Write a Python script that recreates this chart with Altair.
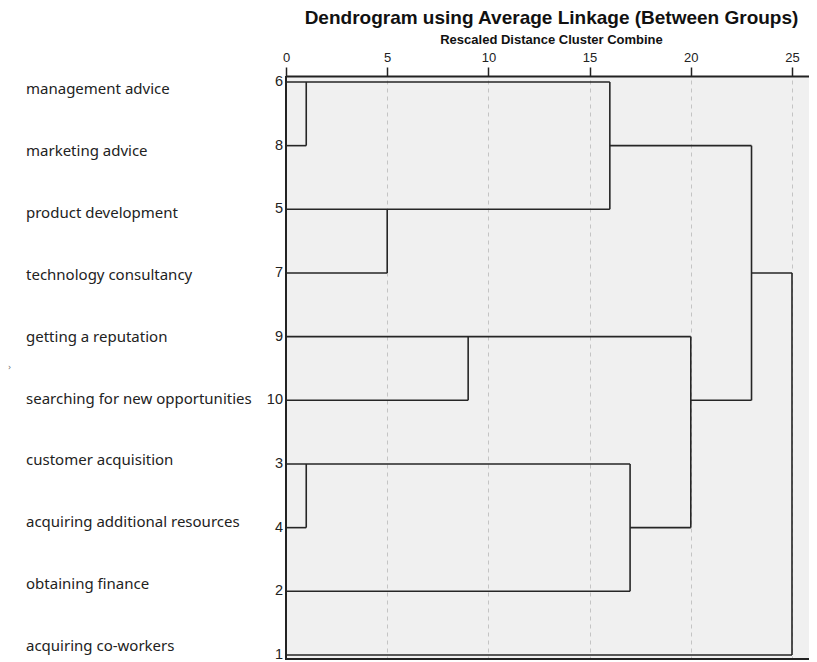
import altair as alt
import pandas as pd

# Leaves, top to bottom
leaf_ids = [6, 8, 5, 7, 9, 10, 3, 4, 2, 1]
leaf_names = [
    "management advice", "marketing advice", "product development",
    "technology consultancy", "getting a reputation",
    "searching for new opportunities", "customer acquisition",
    "acquiring additional resources", "obtaining finance", "acquiring co-workers",
]
leaf_rows = list(range(10))

# Horizontal dendrogram segments: row, start distance, end distance
h_row = [0, 1, 2, 3, 4, 5, 6, 7, 8, 9, 1, 7, 5, 3]
h_from = [0, 0, 0, 0, 0, 0, 0, 0, 0, 0, 16, 17, 20, 23]
h_to = [16, 1, 16, 5, 20, 9, 17, 1, 17, 25, 23, 20, 23, 25]

# Vertical joins: merge distance, row span
v_x = [1, 5, 16, 9, 1, 17, 20, 23, 25]
v_from = [0, 2, 0, 4, 6, 6, 4, 1, 3]
v_to = [1, 3, 2, 5, 7, 8, 7, 5, 9]

tick_vals = [0, 5, 10, 15, 20, 25]

W, H = 523, 584
XDOM = [0, 25.84]
YDOM = [9.079, -0.094]
NAME_DOM = [9.224, -0.21]
LINE = "#262626"
TXT = "#222222"

hdf = pd.DataFrame({"row": h_row, "x0": h_from, "x1": h_to})
vdf = pd.DataFrame({"x": v_x, "r0": v_from, "r1": v_to})
leaves = pd.DataFrame({"row": leaf_rows, "id": [str(i) for i in leaf_ids], "name": leaf_names})
one = pd.DataFrame({"a": [0]})

xscale = alt.Scale(domain=XDOM, nice=False, zero=False)
xaxis = alt.Axis(
    orient="top", values=tick_vals, title=None, tickSize=9, tickWidth=1.5,
    tickColor=TXT, domainColor=TXT, domainWidth=2, labelFontSize=13,
    labelColor=TXT, labelFont="Liberation Sans", labelPadding=3,
    grid=True, gridDash=[4, 4], gridColor="#c4c4c4", gridWidth=1, labelFlush=False,
)

hseg = alt.Chart(hdf).mark_rule(color=LINE, strokeWidth=1.6).encode(
    x=alt.X("x0:Q", scale=xscale, axis=xaxis),
    x2="x1:Q",
    y=alt.Y("row:Q", scale=alt.Scale(domain=YDOM, nice=False, zero=False), axis=None),
)

vseg = alt.Chart(vdf).mark_rule(color=LINE, strokeWidth=1.6).encode(
    x=alt.X("x:Q", scale=xscale, axis=xaxis),
    y=alt.Y("r0:Q", scale=alt.Scale(domain=YDOM, nice=False, zero=False), axis=None),
    y2="r1:Q",
)

nums = alt.Chart(leaves).mark_text(
    align="right", baseline="middle", font="Liberation Sans", fontSize=14.5, color=TXT, dx=-3
).encode(
    x=alt.value(0),
    y=alt.Y("row:Q", scale=alt.Scale(domain=YDOM, nice=False, zero=False), axis=None),
    text="id:N",
)

names = alt.Chart(leaves).mark_text(
    align="left", baseline="middle", font="Noto Sans", fontSize=15, color=TXT
).encode(
    x=alt.value(-260),
    y=alt.Y("row:Q", scale=alt.Scale(domain=NAME_DOM, nice=False, zero=False), axis=None),
    text="name:N",
)

left_border = alt.Chart(one).mark_rule(color=TXT, strokeWidth=2).encode(
    x=alt.value(0), y=alt.value(0), y2=alt.value(H)
)
bottom_border = alt.Chart(one).mark_rule(color=TXT, strokeWidth=2).encode(
    x=alt.value(0), x2=alt.value(W), y=alt.value(H - 1)
)

title = alt.Chart(one).mark_text(
    text="Dendrogram using Average Linkage (Between Groups)", font="Liberation Sans",
    fontSize=19, fontWeight="bold", color="#111111", align="center", baseline="middle"
).encode(x=alt.value(265.5), y=alt.value(-58))

subtitle = alt.Chart(one).mark_text(
    text="Rescaled Distance Cluster Combine", font="Liberation Sans",
    fontSize=13, fontWeight="bold", color="#111111", align="center", baseline="middle"
).encode(x=alt.value(265.5), y=alt.value(-36))

stray = alt.Chart(one).mark_text(
    text="›", font="DejaVu Sans", fontSize=8, color="#666666", align="left", baseline="middle"
).encode(x=alt.value(-278), y=alt.value(292))

chart = alt.layer(
    hseg, vseg, nums, names, left_border, bottom_border, title, subtitle, stray
).resolve_scale(y="independent").properties(
    width=W, height=H, autosize=alt.AutoSizeParams(type="none"),
    padding={"left": 278, "top": 68, "right": 0, "bottom": 0},
    background="white",
).configure_view(fill="#f0f0f0", stroke=None)

chart.save("out.html", embed_options={"renderer": "svg", "actions": False})
